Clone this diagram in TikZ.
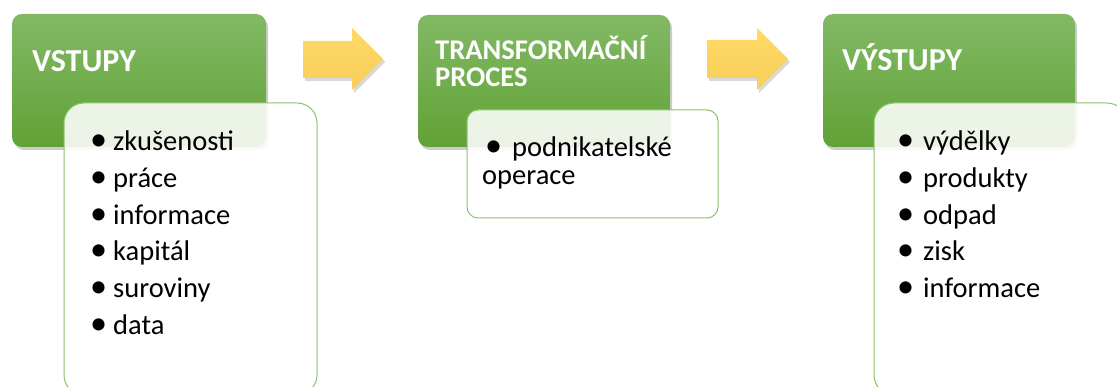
\documentclass[tikz,border=0pt]{standalone}
\usepackage{fontspec}
\setmainfont{Carlito}
\usetikzlibrary{shadows}
\definecolor{gtop}{HTML}{82B965}
\definecolor{gbot}{HTML}{61A236}
\definecolor{gline}{HTML}{8DC26B}
\definecolor{ylw}{HTML}{FFD966}
\definecolor{ylwb}{HTML}{F7CE5A}
\tikzset{
  greenbox/.style={rounded corners=10pt, top color=gtop, bottom color=gbot, draw=none,
    drop shadow={opacity=0.4, shadow xshift=2pt, shadow yshift=-3pt}},
  whitebox/.style={draw=gline, line width=1pt, fill=white, fill opacity=0.88, draw opacity=1},
  blockarrow/.style={top color=ylw, bottom color=ylwb, draw=none,
    drop shadow={opacity=0.3, shadow xshift=2pt, shadow yshift=-3pt}},
  title/.style={anchor=base west, inner sep=0pt, text=white, font=\bfseries\fontsize{32}{36}\selectfont},
  subtitle/.style={anchor=base west, inner sep=0pt, text=white, font=\bfseries\fontsize{28.5}{30}\selectfont},
  item/.style={anchor=base west, inner sep=0pt, text=black, font=\fontsize{28.5}{34}\selectfont},
}
\newcommand{\bul}[2]{\makebox[#1][l]{\scalebox{1.2}{•}}#2}
\begin{document}
\begin{tikzpicture}[x=1pt,y=-1pt]
\useasboundingbox (0,0) rectangle (1117,387);
% column 1
\path[greenbox] (12,14) rectangle (266,147);
\path[whitebox, rounded corners=20pt] (64,103) rectangle (317,395);
\node[title] (t1) at (32,72) {VSTUPY};
\foreach \txt/\yy [count=\i] in {zkušenosti/151, práce/188, informace/225, kapitál/261, suroviny/298, data/335}
  \node[item] (a\i) at (90,\yy) {\bul{23pt}{\txt}};
% arrow 1
\path[blockarrow] (303,41) -- (352,41) -- (352,28) -- (383,59) -- (352,90) -- (352,78) -- (303,78) -- cycle;
% column 2
\path[greenbox] (418,15) rectangle (670,147);
\path[whitebox, rounded corners=11pt] (467,110) rectangle (718,218);
\node[subtitle] (t2a) at (435,60) {TRANSFORMAČNÍ};
\node[subtitle] (t2b) at (435,87) {PROCES};
\node[item] (b1) at (485,157) {\bul{27pt}{podnikatelské}};
\node[item] (b2) at (482,185) {operace};
% arrow 2
\path[blockarrow] (707,40) -- (757,40) -- (757,28) -- (788,59) -- (757,90) -- (757,78) -- (707,78) -- cycle;
% column 3
\path[greenbox] (823,14) rectangle (1075,147);
\path[whitebox, rounded corners=20pt] (874,103) rectangle (1127,395);
\node[title] (t3) at (842,71) {VÝSTUPY};
\foreach \txt/\yy [count=\i] in {výdělky/151, produkty/188, odpad/225, zisk/261, informace/298}
  \node[item] (c\i) at (897,\yy) {\bul{26pt}{\txt}};
\end{tikzpicture}
\end{document}
